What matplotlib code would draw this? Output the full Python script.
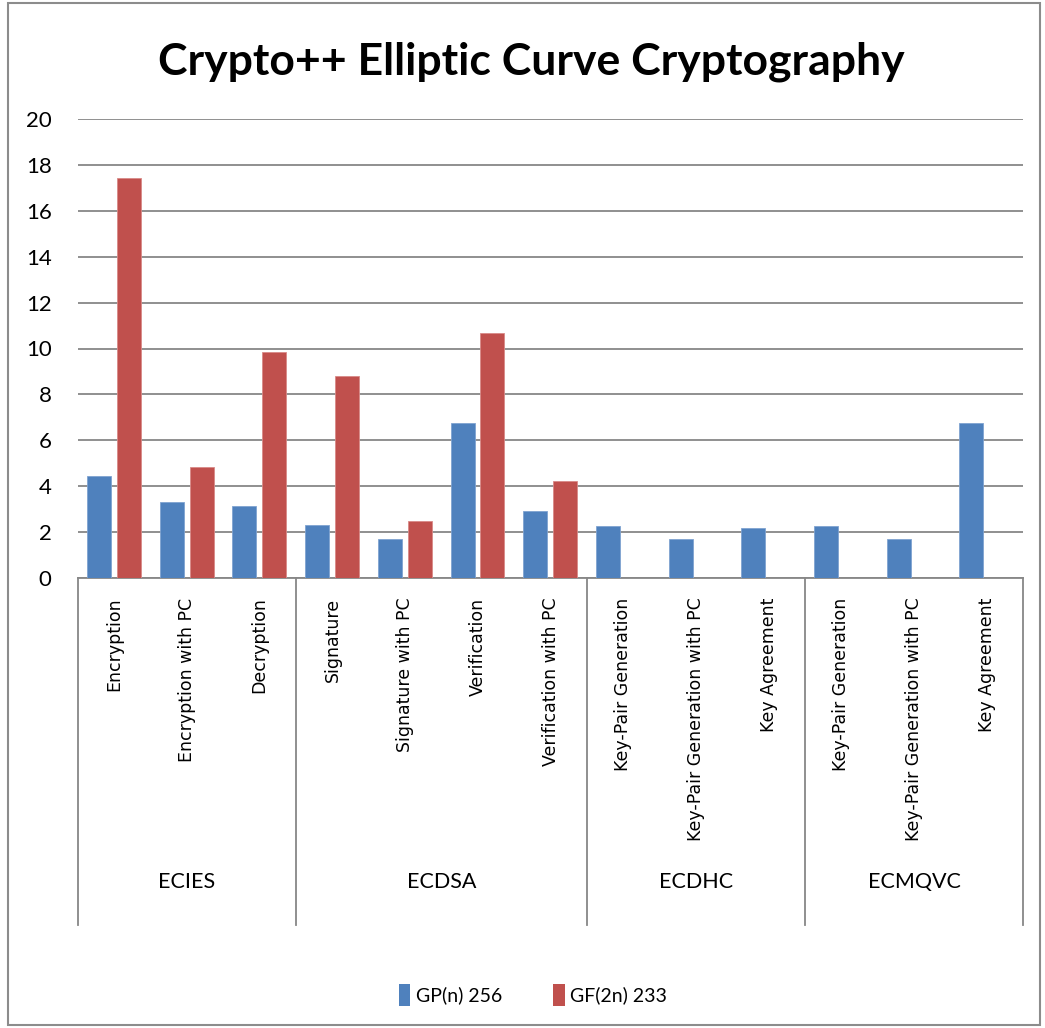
import matplotlib.pyplot as plt
import matplotlib.transforms as mtransforms
from matplotlib.patches import Patch, Rectangle
from matplotlib.lines import Line2D

# data
categories = [
    "Encryption", "Encryption with PC", "Decryption",
    "Signature", "Signature with PC", "Verification", "Verification with PC",
    "Key-Pair Generation", "Key-Pair Generation with PC", "Key Agreement",
    "Key-Pair Generation", "Key-Pair Generation with PC", "Key Agreement",
]
groups = ["ECIES", "ECDSA", "ECDHC", "ECMQVC"]
group_sizes = [3, 4, 3, 3]
gp_256 = [4.44, 3.32, 3.12, 2.32, 1.70, 6.77, 2.93, 2.26, 1.70, 2.20, 2.26, 1.70, 6.77]
gf_233 = [17.45, 4.83, 9.85, 8.80, 2.48, 10.69, 4.21, 0, 0, 0, 0, 0, 0]
series_names = ["GP(n) 256", "GF(2n) 233"]

blue = "#4F81BD"
red = "#C0504D"
grid_col = "#878787"

W, H = 1045, 1028
fig = plt.figure(figsize=(W / 100, H / 100), dpi=100)

# outer chart border
fig.patches.append(Rectangle((8 / W, 3 / H), 1032 / W, 1022 / H, transform=fig.transFigure,
                             fill=False, edgecolor="#8c8c8c", linewidth=1.5))

ax = fig.add_axes([78 / W, 1 - 578 / H, 945 / W, 459 / H])
n = len(categories)
xs = [i + 0.5 for i in range(n)]
ax.bar([x - 0.21 for x in xs], gp_256, width=0.33, color=blue, edgecolor="#7fa3d1", linewidth=0.6, zorder=3)
ax.bar([x + 0.2 for x in xs], gf_233, width=0.33, color=red, edgecolor="#d98a88", linewidth=0.6, zorder=3)

ax.set_xlim(0, n)
ax.set_ylim(0, 20)
ax.set_yticks(range(0, 21, 2))
ax.yaxis.grid(True, color=grid_col, linewidth=1.3)
ax.set_axisbelow(True)
for s in ["top", "right", "left"]:
    ax.spines[s].set_visible(False)
ax.spines["bottom"].set_color(grid_col)
ax.spines["bottom"].set_linewidth(1.3)
ax.tick_params(axis="y", length=0, pad=19, labelsize=16)
for lab in ax.get_yticklabels():
    lab.set_fontfamily("Lato")

ax.set_xticks(xs)
ax.set_xticklabels(categories, rotation=90, va="top", ha="center", fontsize=12.5,
                   fontfamily="DejaVu Sans")
ax.tick_params(axis="x", length=0, pad=14)

# group separators and labels under the axis
trans = mtransforms.blended_transform_factory(ax.transData, fig.transFigure)
edges = [0]
for g in group_sizes:
    edges.append(edges[-1] + g)
for e in edges:
    fig.lines.append(Line2D([e, e], [1 - 578 / H, 1 - 925 / H], transform=trans,
                            color=grid_col, linewidth=1.3))
for i, g in enumerate(groups):
    ax.text((edges[i] + edges[i + 1]) / 2, 1 - 882 / H, g, transform=trans,
            ha="center", va="center", fontsize=15.5, fontfamily="Lato")

fig.text(0.508, 1 - 62 / H, "Crypto++ Elliptic Curve Cryptography", ha="center", va="center",
         fontsize=32, fontweight="bold", fontfamily="Lato")

handles = [Patch(facecolor=blue), Patch(facecolor=red)]
fig.legend(handles, series_names, loc="center", bbox_to_anchor=(0.51, 1 - 995 / H), ncol=2,
           frameon=False, handlelength=0.6, handleheight=1.3, handletextpad=0.3,
           columnspacing=2.6, prop={"family": "Lato", "size": 14})

fig.savefig("out.png", dpi=100)
